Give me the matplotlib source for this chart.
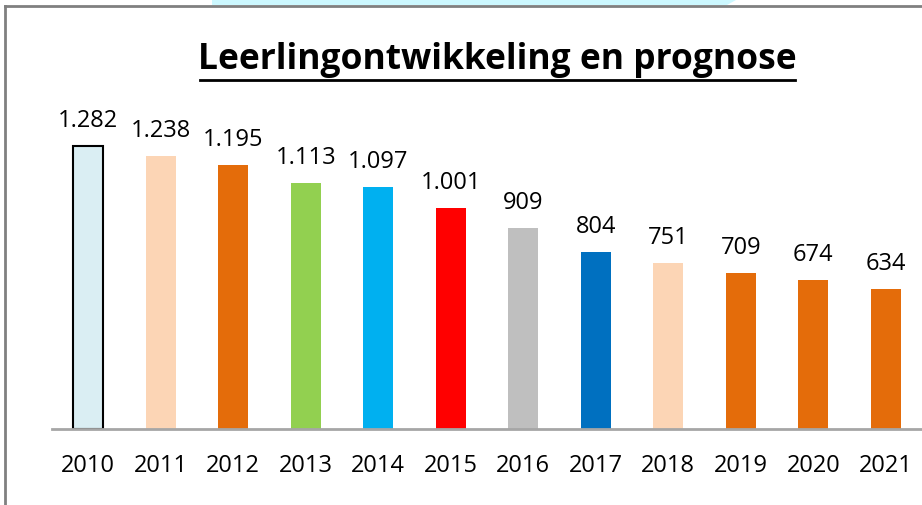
import matplotlib.pyplot as plt
from matplotlib.patches import Polygon
from matplotlib.lines import Line2D

# data
years = ['2010', '2011', '2012', '2013', '2014', '2015',
         '2016', '2017', '2018', '2019', '2020', '2021']
pupils = [1282, 1238, 1195, 1113, 1097, 1001, 909, 804, 751, 709, 674, 634]
labels = ['1.282', '1.238', '1.195', '1.113', '1.097', '1.001',
          '909', '804', '751', '709', '674', '634']
colors = ['#DAEEF3', '#FCD5B5', '#E46C0A', '#92D050', '#00B0F0', '#FF0000',
          '#BFBFBF', '#0070C0', '#FCD5B5', '#E46C0A', '#E46C0A', '#E46C0A']

W, H = 922, 505
fig = plt.figure(figsize=(W / 100, H / 100), dpi=100)
plt.rcParams['font.family'] = ['Open Sans', 'DejaVu Sans']

# frame bits from the surrounding slide
fig.patches.append(Polygon([(212 / W, 1), (736 / W, 1), (727 / W, 1 - 5 / H), (212 / W, 1 - 5 / H)],
                           closed=True, transform=fig.transFigure,
                           facecolor='#CCF8FF', edgecolor='none'))
fig.lines.append(Line2D([5 / W, 1], [1 - 6 / H, 1 - 6 / H], transform=fig.transFigure,
                        color='#808080', lw=2))
fig.lines.append(Line2D([5 / W, 5 / W], [0, 1 - 6 / H], transform=fig.transFigure,
                        color='#808080', lw=2))

# axes: x 52..922 px, y baseline at 429 px, top at 120 px (ylim 0..1400)
ax = fig.add_axes([52 / W, (H - 429) / H, (922 - 52) / W, (429 - 120) / H])
x = range(len(years))
bars = ax.bar(x, pupils, width=0.41, color=colors)
bars[0].set_edgecolor('black')
bars[0].set_linewidth(1.5)
ax.set_xlim(-0.5, 11.5)
ax.set_ylim(0, 1400)

for xi, v, lab in zip(x, pupils, labels):
    ax.annotate(lab, (xi, v), xytext=(0, 25), textcoords='offset pixels',
                ha='center', va='center', fontsize=17, color='black')

for s in ['top', 'right', 'left']:
    ax.spines[s].set_visible(False)
ax.spines['bottom'].set_color('#A6A6A6')
ax.spines['bottom'].set_linewidth(2)
ax.set_yticks([])
ax.set_xticks(list(x))
ax.set_xticklabels(years, fontsize=17)
ax.tick_params(axis='x', length=0, pad=18)
ax.patch.set_alpha(0)

fig.text(497 / W, 1 - 60 / H, 'Leerlingontwikkeling en prognose', ha='center', va='center',
         fontsize=25.5, fontweight='bold')
fig.lines.append(Line2D([200 / W, 795 / W], [1 - 80 / H, 1 - 80 / H], transform=fig.transFigure,
                        color='black', lw=2))

fig.savefig('out.png', dpi=100)
